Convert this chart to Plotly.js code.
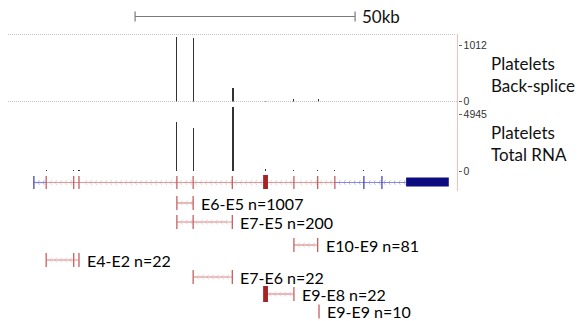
<!DOCTYPE html>
<html><head><meta charset="utf-8">
<script src="https://cdn.plot.ly/plotly-3.0.1.min.js"></script>
<style>html,body{margin:0;padding:0;background:#fff}#chart{width:579px;height:321px}</style>
</head><body><div id="chart"></div>
<script>
// ---------- data (genomic positions in kb) ----------
const scaleBarStartKb = 30.7;
const scaleBarLenKb = 50;
const scaleBarLabel = '50kb';

const backspliceX = [40.2, 43.9, 52.95, 60.3, 66.8, 72.3];
const backspliceY = [1157, 1138, 235, 12, 45, 40];
const backspliceTicks = [0, 1012];

const totalRnaX = [10.5, 16.75, 17.95, 40.2, 43.9, 52.95, 60.3, 66.8, 72.2, 76.1, 82.7, 86.8];
const totalRnaY = [110, 110, 110, 4251, 3730, 5550, 150, 110, 110, 90, 90, 110];
const totalRnaTicks = [0, 4945];

const trackNames = ['Platelets<br>Back-splice', 'Platelets<br>Total RNA'];

const geneStartKb = 7.7;
const geneRedStartKb = 10.5;
const geneRedEndKb = 76.1;
const utrBoxKb = [92.3, 102.0];
const exonRedKb = [10.5, 16.75, 17.95, 40.2, 43.9, 52.8, 66.8, 72.2, 76.1];
const exonBlueKb = [7.7, 82.7, 86.8];
const thickExonKb = [59.8, 60.9];

const featureNames = ['E6-E5', 'E7-E5', 'E10-E9', 'E4-E2', 'E7-E6', 'E9-E8', 'E9-E9'];
const featureCounts = [1007, 200, 81, 22, 22, 22, 10];
const featureExons = [[40.2, 43.9], [40.2, 43.9, 52.8], [66.8, 72.2], [10.5, 16.75, 17.95], [43.9, 52.8], [60.3, 66.8], [72.5]];

// ---------- layout constants ----------
const W = 579, H = 321, KB_PER_PX = 1 / 4.4;
const xMax = W * KB_PER_PX;
const rowY = [203, 222, 245, 260, 277, 294, 311.5];
const geneY = 182.5;
const pyToPaper = py => 1 - py / H;
const RED_LINE = 'rgb(220,155,155)', RED_CHEV = 'rgb(236,190,190)', RED_EXON = 'rgb(200,95,95)';
const BLUE_LINE = 'rgb(135,135,220)', BLUE_CHEV = 'rgb(175,175,230)', BLUE_EXON = 'rgb(70,70,190)';
const DARK_RED = 'rgb(165,35,35)', NAVY = 'rgb(12,12,128)';

// track 1: baseline py 101.5, top py 34, 1012 at py 45
const t1Bot = 101.5, t1Top = 34, t1Lab = 45;
const R1 = backspliceTicks[1] * (t1Bot - t1Top) / (t1Bot - t1Lab);
// track 2: baseline py 171, top py 103, 4945 at py 114
const t2Bot = 171, t2Top = 103, t2Lab = 114;
const R2 = totalRnaTicks[1] * (t2Bot - t2Top) / (t2Bot - t2Lab);

const traces = [];
const shapes = [];
const annotations = [];

// spikes
traces.push({type: 'bar', x: backspliceX, y: backspliceY, width: 0.24, xaxis: 'x', yaxis: 'y',
  marker: {color: '#333', line: {width: 0}}, hoverinfo: 'skip', showlegend: false});
traces.push({type: 'bar', x: totalRnaX, y: totalRnaY, width: 0.24, xaxis: 'x', yaxis: 'y2',
  marker: {color: '#333', line: {width: 0}}, hoverinfo: 'skip', showlegend: false});

function tickSeries(xs, yc, half) {
  const x = [], y = [];
  xs.forEach(v => { x.push(v, v, null); y.push(yc - half, yc + half, null); });
  return {x, y};
}
// chevron decoration (intron direction) between a and b, avoiding exons
function chevrons(a, b, avoid) {
  const out = [];
  const step = 5 * KB_PER_PX;
  for (let v = a + step * 0.8; v < b - step * 0.3; v += step) {
    if (avoid.every(e => Math.abs(e - v) > 0.35)) out.push(v);
  }
  return out;
}
function lineTrace(x, y, color, width) {
  return {type: 'scatter', mode: 'lines', x, y, xaxis: 'x', yaxis: 'y3',
    line: {color, width}, hoverinfo: 'skip', showlegend: false};
}
function chevTrace(xs, yc, color) {
  return {type: 'scatter', mode: 'markers', x: xs, y: xs.map(() => yc), xaxis: 'x', yaxis: 'y3',
    marker: {symbol: 'y-left', size: 4, color, line: {color, width: 0.8}}, hoverinfo: 'skip', showlegend: false};
}

// gene track
const thickMid = (thickExonKb[0] + thickExonKb[1]) / 2;
const allExons = exonRedKb.concat(exonBlueKb).concat([thickMid]);
traces.push(chevTrace(chevrons(geneRedStartKb, geneRedEndKb, allExons), geneY, RED_CHEV));
traces.push(chevTrace(chevrons(geneRedEndKb, utrBoxKb[0], allExons), geneY, BLUE_CHEV));
traces.push(chevTrace(chevrons(geneStartKb, geneRedStartKb, allExons), geneY, BLUE_CHEV));
traces.push(lineTrace([geneStartKb, geneRedStartKb], [geneY, geneY], BLUE_LINE, 1.2));
traces.push(lineTrace([geneRedStartKb, geneRedEndKb], [geneY, geneY], RED_LINE, 1.2));
traces.push(lineTrace([geneRedEndKb, utrBoxKb[0]], [geneY, geneY], BLUE_LINE, 1.2));
let ts = tickSeries(exonRedKb, geneY, 6.5);
traces.push(lineTrace(ts.x, ts.y, RED_EXON, 1.3));
ts = tickSeries(exonBlueKb, geneY, 6.5);
traces.push(lineTrace(ts.x, ts.y, BLUE_EXON, 1.3));
shapes.push({type: 'rect', xref: 'x', yref: 'y3', x0: thickExonKb[0], x1: thickExonKb[1], y0: geneY - 7.5, y1: geneY + 6.5,
  fillcolor: DARK_RED, line: {width: 0}});
shapes.push({type: 'rect', xref: 'x', yref: 'y3', x0: utrBoxKb[0], x1: utrBoxKb[1], y0: geneY - 5, y1: geneY + 4,
  fillcolor: NAVY, line: {width: 0}});

// feature rows
featureNames.forEach((name, i) => {
  const ex = featureExons[i];
  const yc = rowY[i];
  const a = ex[0], b = ex[ex.length - 1];
  if (b > a) {
    traces.push(chevTrace(chevrons(a, b, ex.concat(allExons)), yc, RED_CHEV));
    traces.push(lineTrace([a, b], [yc, yc], RED_LINE, 1.2));
  }
  const thin = ex.filter(e => Math.abs(e - thickMid) > 0.3);
  const tsr = tickSeries(thin, yc, 7);
  traces.push(lineTrace(tsr.x, tsr.y, RED_EXON, 1.3));
  if (thin.length < ex.length) {
    shapes.push({type: 'rect', xref: 'x', yref: 'y3', x0: thickExonKb[0], x1: thickExonKb[1], y0: yc - 8, y1: yc + 8,
      fillcolor: DARK_RED, line: {width: 0}});
  }
  annotations.push({xref: 'x', yref: 'y3', x: b, y: yc, xanchor: 'left', yanchor: 'middle', xshift: 7, showarrow: false,
    borderpad: 0, text: name + ' n=' + featureCounts[i], font: {family: 'Lato', size: 16, color: '#000'}});
});

// scale bar
const sbY = 16.5;
traces.push(lineTrace([scaleBarStartKb, scaleBarStartKb + scaleBarLenKb], [sbY, sbY], '#7a7a7a', 1.2));
ts = tickSeries([scaleBarStartKb, scaleBarStartKb + scaleBarLenKb], sbY, 5);
traces.push(lineTrace(ts.x, ts.y, '#7a7a7a', 1.2));
annotations.push({xref: 'x', yref: 'y3', x: scaleBarStartKb + scaleBarLenKb, y: sbY, xanchor: 'left', yanchor: 'middle', xshift: 5,
  showarrow: false, text: scaleBarLabel, font: {family: 'Lato', size: 17, color: '#111'}});

// dotted borders of back-splice track
shapes.push({type: 'line', xref: 'x', yref: 'y', x0: 8 * KB_PER_PX, x1: 455 * KB_PER_PX, y0: R1, y1: R1,
  line: {color: '#8a8a8a', width: 1, dash: '1px,1px'}});
shapes.push({type: 'line', xref: 'x', yref: 'y', x0: 8 * KB_PER_PX, x1: 458 * KB_PER_PX, y0: 0, y1: 0,
  line: {color: '#8a8a8a', width: 1, dash: '1px,1px'}});
// pink vertical boundary
shapes.push({type: 'line', xref: 'x', yref: 'paper', x0: 457.5 * KB_PER_PX, x1: 457.5 * KB_PER_PX,
  y0: pyToPaper(191), y1: pyToPaper(34), line: {color: 'rgb(255,185,185)', width: 1}});

// track labels
annotations.push({xref: 'paper', yref: 'paper', x: 489 / W, y: pyToPaper(74.5), xanchor: 'left', yanchor: 'middle', align: 'left',
  showarrow: false, text: trackNames[0], font: {family: 'Lato', size: 17, color: '#111'}});
annotations.push({xref: 'paper', yref: 'paper', x: 489 / W, y: pyToPaper(143.5), xanchor: 'left', yanchor: 'middle', align: 'left',
  showarrow: false, text: trackNames[1], font: {family: 'Lato', size: 17, color: '#111'}});

const tickFont = {family: 'Liberation Sans', size: 10.5, color: '#333'};
const layout = {
  width: W, height: H, margin: {l: 0, r: 0, t: 0, b: 0},
  paper_bgcolor: '#fff', plot_bgcolor: 'rgba(0,0,0,0)', showlegend: false, bargap: 0,
  xaxis: {range: [0, xMax], domain: [0, 1], visible: false, fixedrange: true},
  yaxis: {domain: [pyToPaper(t1Bot), pyToPaper(t1Top)], range: [0, R1], anchor: 'free', position: 457.5 / W, side: 'right',
    tickvals: backspliceTicks, ticktext: backspliceTicks.map(String), ticks: 'outside', ticklen: 3, tickcolor: '#666',
    showgrid: false, zeroline: false, showline: false, tickfont: tickFont},
  yaxis2: {domain: [pyToPaper(t2Bot), pyToPaper(t2Top)], range: [0, R2], anchor: 'free', position: 457.5 / W, side: 'right',
    tickvals: totalRnaTicks, ticktext: totalRnaTicks.map(String), ticks: 'outside', ticklen: 3, tickcolor: '#666',
    showgrid: false, zeroline: false, showline: false, tickfont: tickFont},
  yaxis3: {domain: [0, 1], range: [H, 0], visible: false, fixedrange: true},
  shapes, annotations
};
Plotly.newPlot('chart', traces, layout, {staticPlot: true, displayModeBar: false});
</script></body></html>
